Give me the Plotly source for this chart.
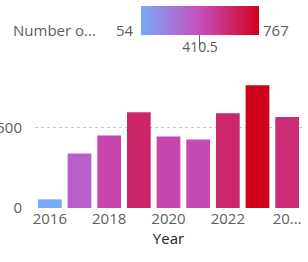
import plotly.graph_objects as go

years = [2016, 2017, 2018, 2019, 2020, 2021, 2022, 2023, 2024]
counts = [54, 340, 452, 597, 446, 428, 591, 767, 568]
x_tick_vals = [2016, 2018, 2020, 2022, 2024]
x_tick_text = ["2016", "2018", "2020", "2022", "20..."]
y_tick_vals = [0, 500]
y_tick_text = ["0", "500"]
legend_title = "Number o..."
cmin, cmid, cmax = 54, 410.5, 767

W, H = 308, 262
ML, MR, MT, MB = 35, 6, 62, 54
PW, PH = W - ML - MR, H - MT - MB

def px_x(p):
    return (p - ML) / PW

def px_y(p):
    return (H - MB - p) / PH

FONT = "Open Sans, Segoe UI, sans-serif"
TICK = "#605E5C"

fig = go.Figure(go.Bar(
    x=years, y=counts,
    marker=dict(
        color=counts, cmin=cmin, cmax=cmax,
        colorscale=[[0, "#7AA8F8"], [0.5, "#C64EBE"], [1, "#D0021B"]],
        line=dict(width=0),
        colorbar=dict(
            orientation="h", thickness=29, thicknessmode="pixels",
            len=118, lenmode="pixels",
            x=px_x(200), xanchor="center", y=px_y(16.5), yanchor="middle",
            xpad=0, ypad=0, outlinewidth=0,
            tickvals=[cmid], ticktext=["410.5"], ticks="",
            tickfont=dict(family=FONT, size=14, color=TICK),
        ),
    ),
    showlegend=False,
))

fig.add_shape(type="line", xref="paper", yref="paper",
              x0=px_x(199.5), x1=px_x(199.5), y0=px_y(2), y1=px_y(36),
              line=dict(color="#666666", width=1))

fig.add_annotation(text=legend_title, xref="paper", yref="paper",
                   x=px_x(11), y=px_y(16.5), xanchor="left", yanchor="middle",
                   showarrow=False, font=dict(family=FONT, size=15, color=TICK))
fig.add_annotation(text=str(cmin), xref="paper", yref="paper",
                   x=px_x(136), y=px_y(16.5), xanchor="right", yanchor="middle",
                   showarrow=False, font=dict(family=FONT, size=15, color=TICK))
fig.add_annotation(text=str(cmax), xref="paper", yref="paper",
                   x=px_x(261), y=px_y(16.5), xanchor="left", yanchor="middle",
                   showarrow=False, font=dict(family=FONT, size=15, color=TICK))

fig.update_layout(
    width=W, height=H,
    margin=dict(l=ML, r=MR, t=MT, b=MB),
    paper_bgcolor="white", plot_bgcolor="white",
    bargap=0.2,
    font=dict(family=FONT, size=15, color=TICK),
    xaxis=dict(
        range=[2015.5, 2024.5], tickvals=x_tick_vals, ticktext=x_tick_text,
        showgrid=False, showline=False, ticks="", automargin=False,
        tickfont=dict(family=FONT, size=15, color=TICK),
        title=dict(text="Year", standoff=4, font=dict(family=FONT, size=15, color="#252423")),
    ),
    yaxis=dict(
        range=[0, 849], tickvals=y_tick_vals, ticktext=y_tick_text,
        showgrid=True, gridcolor="#C8C8C8", griddash="dot", gridwidth=1,
        zeroline=True, zerolinecolor="white", showline=False, ticks="",
        ticklabelstandoff=12, automargin=False,
        tickfont=dict(family=FONT, size=15, color=TICK),
    ),
)

fig.write_html("out.html", config={"displayModeBar": False},
               post_script="document.body.style.margin='0';document.body.style.overflow='hidden';")
